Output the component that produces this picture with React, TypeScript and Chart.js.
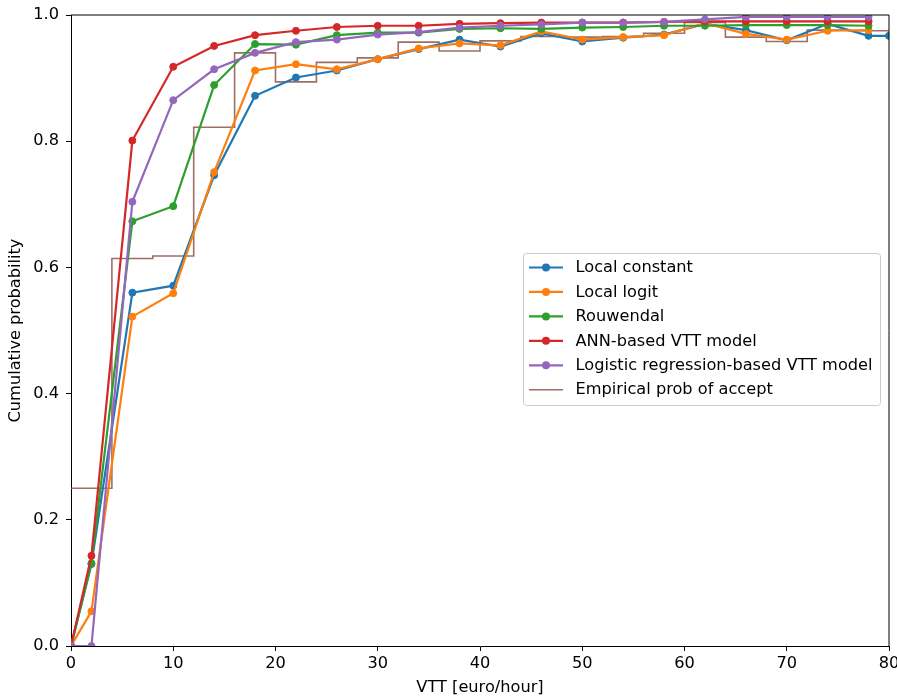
import React, { useEffect, useRef } from "react";
import { Chart, registerables } from "chart.js";

Chart.register(...registerables);

const xModel = [0, 2, 6, 10, 14, 18, 22, 26, 30, 34, 38, 42, 46, 50, 54, 58, 62, 66, 70, 74, 78];
const xLocalConstant = [0, 2, 6, 10, 14, 18, 22, 26, 30, 34, 38, 42, 46, 50, 54, 58, 62, 66, 70, 74, 78, 80];

const localConstant = [0, 0.13, 0.56, 0.571, 0.746, 0.872, 0.901, 0.912, 0.93, 0.946, 0.961, 0.95, 0.971, 0.958, 0.964, 0.969, 0.986, 0.976, 0.96, 0.986, 0.967, 0.967];
const localLogit = [0, 0.055, 0.522, 0.559, 0.751, 0.912, 0.922, 0.914, 0.93, 0.947, 0.955, 0.952, 0.974, 0.961, 0.965, 0.968, 0.987, 0.97, 0.961, 0.975, 0.976];
const rouwendal = [0, 0.131, 0.673, 0.697, 0.889, 0.954, 0.953, 0.968, 0.972, 0.972, 0.978, 0.979, 0.978, 0.98, 0.981, 0.983, 0.983, 0.984, 0.984, 0.984, 0.983];
const annModel = [0, 0.143, 0.801, 0.918, 0.951, 0.968, 0.975, 0.981, 0.983, 0.983, 0.986, 0.987, 0.988, 0.988, 0.988, 0.989, 0.99, 0.99, 0.99, 0.99, 0.99];
const logisticModel = [0, 0, 0.704, 0.865, 0.914, 0.94, 0.957, 0.961, 0.969, 0.973, 0.98, 0.983, 0.985, 0.988, 0.988, 0.989, 0.993, 0.997, 0.997, 0.997, 0.997];

const xEmpirical = [0, 4, 8, 12, 16, 20, 24, 28, 32, 36, 40, 44, 48, 52, 56, 60, 64, 68, 72, 76, 80];
const empirical = [0.25, 0.614, 0.618, 0.822, 0.94, 0.894, 0.925, 0.932, 0.957, 0.943, 0.959, 0.966, 0.965, 0.966, 0.971, 0.988, 0.965, 0.958, 0.976, 0.975, 0.975];

const seriesLabels = [
  "Local constant",
  "Local logit",
  "Rouwendal",
  "ANN-based VTT model",
  "Logistic regression-based VTT model",
  "Empirical prob of accept",
];
const seriesColors = ["#1f77b4", "#ff7f0e", "#2ca02c", "#d62728", "#9467bd", "rgba(140,86,75,0.85)"];

const xTitle = "VTT [euro/hour]";
const yTitle = "Cumulative probability";

const FONT = { family: "'DejaVu Sans'", size: 16.2 };

function toPoints(xs: number[], ys: number[]) {
  return ys.map((y, i) => ({ x: xs[i], y }));
}

const framePlugin = {
  id: "frameAndLegend",
  afterDatasetsDraw(chart: any) {
    const { ctx, chartArea } = chart;
    const { left, right, top, bottom } = chartArea;
    ctx.save();
    ctx.strokeStyle = "#000";
    ctx.lineWidth = 1;
    ctx.beginPath();
    ctx.moveTo(left, top);
    ctx.lineTo(right, top);
    ctx.lineTo(right, bottom);
    ctx.stroke();
    ctx.restore();
  },
  afterDraw(chart: any) {
    const { ctx } = chart;
    ctx.save();
    const x0 = 523.5, y0 = 253.5, w = 357, h = 152, r = 3;
    ctx.beginPath();
    ctx.moveTo(x0 + r, y0);
    ctx.lineTo(x0 + w - r, y0);
    ctx.arcTo(x0 + w, y0, x0 + w, y0 + r, r);
    ctx.lineTo(x0 + w, y0 + h - r);
    ctx.arcTo(x0 + w, y0 + h, x0 + w - r, y0 + h, r);
    ctx.lineTo(x0 + r, y0 + h);
    ctx.arcTo(x0, y0 + h, x0, y0 + h - r, r);
    ctx.lineTo(x0, y0 + r);
    ctx.arcTo(x0, y0, x0 + r, y0, r);
    ctx.closePath();
    ctx.fillStyle = "rgba(255,255,255,0.8)";
    ctx.fill();
    ctx.strokeStyle = "#cccccc";
    ctx.lineWidth = 1;
    ctx.stroke();

    ctx.font = `${FONT.size}px ${FONT.family}`;
    ctx.textBaseline = "middle";
    ctx.textAlign = "left";
    seriesLabels.forEach((label, i) => {
      const y = 267.5 + i * 24.45;
      const isStep = i === 5;
      ctx.strokeStyle = seriesColors[i];
      ctx.lineWidth = isStep ? 1.5 : 2.2;
      ctx.beginPath();
      ctx.moveTo(529, y);
      ctx.lineTo(563, y);
      ctx.stroke();
      if (!isStep) {
        ctx.fillStyle = seriesColors[i];
        ctx.beginPath();
        ctx.arc(546, y, 4, 0, Math.PI * 2);
        ctx.fill();
      }
      ctx.fillStyle = "#000";
      ctx.fillText(label, 575.5, y + 0.5);
    });
    ctx.restore();
  },
};

export default function App() {
  const canvasRef = useRef<HTMLCanvasElement | null>(null);

  useEffect(() => {
    if (!canvasRef.current) return;
    const modelSeries = [localConstant, localLogit, rouwendal, annModel, logisticModel];
    const datasets: any[] = modelSeries.map((ys, i) => ({
      label: seriesLabels[i],
      data: toPoints(i === 0 ? xLocalConstant : xModel, ys),
      borderColor: seriesColors[i],
      backgroundColor: seriesColors[i],
      pointBackgroundColor: seriesColors[i],
      pointBorderColor: seriesColors[i],
      borderWidth: 2.2,
      pointRadius: 3.5,
      pointBorderWidth: 1,
      pointHoverRadius: 3.5,
      fill: false,
      tension: 0,
      clip: 0,
      order: 10 - i,
    }));
    datasets.push({
      label: seriesLabels[5],
      data: toPoints(xEmpirical, empirical),
      borderColor: seriesColors[5],
      backgroundColor: seriesColors[5],
      borderWidth: 1.6,
      pointRadius: 0,
      pointHoverRadius: 0,
      stepped: "before",
      fill: false,
      clip: 0,
      order: 100,
    });

    const chart = new Chart(canvasRef.current, {
      type: "line",
      data: { datasets },
      options: {
        animation: false,
        responsive: false,
        events: [],
        layout: { padding: { top: 15, right: 8, left: 0, bottom: 0 } },
        plugins: {
          legend: { display: false },
          tooltip: { enabled: false },
        },
        scales: {
          x: {
            type: "linear",
            min: 0,
            max: 80,
            ticks: {
              stepSize: 10,
              color: "#000",
              font: FONT,
              padding: 3.3,
              maxRotation: 0,
              autoSkip: false,
            },
            grid: {
              drawOnChartArea: false,
              drawTicks: true,
              tickLength: 5,
              color: "#000",
              lineWidth: 1,
            },
            border: { display: true, color: "#000", width: 1 },
            title: {
              display: true,
              text: xTitle,
              color: "#000",
              font: FONT,
              padding: { top: 0, bottom: -0.7 },
            },
            afterFit(scale: any) {
              scale.height = 51;
              scale.paddingLeft = 0;
              scale.paddingRight = 0;
            },
          },
          y: {
            type: "linear",
            min: 0,
            max: 1,
            ticks: {
              stepSize: 0.2,
              color: "#000",
              font: FONT,
              padding: 7,
              callback: (v: any) => Number(v).toFixed(1),
            },
            grid: {
              drawOnChartArea: false,
              drawTicks: true,
              tickLength: 5,
              color: "#000",
              lineWidth: 1,
            },
            border: { display: true, color: "#000", width: 1 },
            title: {
              display: true,
              text: yTitle,
              color: "#000",
              font: FONT,
              padding: { top: 6.3, bottom: 0 },
            },
            afterFit(scale: any) {
              scale.width = 71;
              scale.paddingTop = 0;
              scale.paddingBottom = 0;
            },
          },
        },
      } as any,
      plugins: [framePlugin],
    });
    return () => chart.destroy();
  }, []);

  return (
    <div style={{ position: "fixed", left: 0, top: 0, width: 897, height: 697, background: "#fff" }}>
      <canvas ref={canvasRef} width={897} height={697} style={{ display: "block" }} />
    </div>
  );
}
